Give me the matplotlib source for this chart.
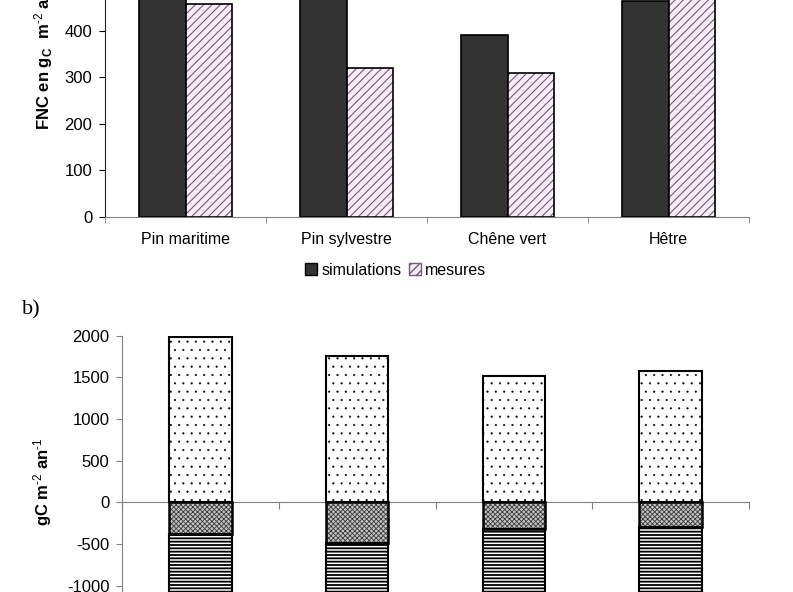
import numpy as np
import matplotlib
matplotlib.use("Agg")
import matplotlib.pyplot as plt
from matplotlib.patches import Patch

plt.rcParams['font.family'] = ['Liberation Sans', 'DejaVu Sans']
plt.rcParams['mathtext.fontset'] = 'custom'
plt.rcParams['mathtext.rm'] = 'Liberation Sans'
plt.rcParams['mathtext.bf'] = 'Liberation Sans:bold'
plt.rcParams['mathtext.default'] = 'bf'
plt.rcParams['axes.unicode_minus'] = False
plt.rcParams['hatch.linewidth'] = 1.0

# panel a) : FNC simulated vs measured
sites = ["Pin maritime", "Pin sylvestre", "Chêne vert", "Hêtre"]
fnc_sim = [560, 540, 391, 463]   # first two cut off in the picture
fnc_mes = [457, 319, 310, 510]   # last one cut off in the picture

# panel b) : stacked fluxes
flux_pos = [1981, 1760, 1516, 1576]
flux_neg1 = [-375, -488, -324, -300]
flux_neg2 = [-900, -850, -800, -850]   # lower ends cut off in the picture

W, H = 793, 592
fig = plt.figure(figsize=(W / 100, H / 100), dpi=100)


def px_axes(left, right, y0_px, top_px):
    # y0_px: pixel row (from top) of axes bottom, top_px: pixel row of axes top
    return [left / W, 1 - y0_px / H, (right - left) / W, (y0_px - top_px) / H]


def hatch_lw(bars, lw):
    for p in bars:
        if hasattr(p, 'set_hatch_linewidth'):
            p.set_hatch_linewidth(lw)


# ---------- panel a ----------
a_ymax = 700
a_scale = 46.5 / 100.0          # px per unit
ax1 = fig.add_axes(px_axes(105, 749, 216.7, 216.7 - a_ymax * a_scale))
x = np.arange(len(sites))
bw = 0.29
ax1.bar(x - bw / 2, fnc_sim, bw, color='#333333', edgecolor='black', linewidth=1.2, zorder=3)
mb = ax1.bar(x + bw / 2, fnc_mes, bw, color='#f8eef8', edgecolor='#7a587a', hatch='////',
             linewidth=0, zorder=3)
hatch_lw(mb, 0.8)
ax1.bar(x + bw / 2, fnc_mes, bw, fill=False, edgecolor='black', linewidth=1.2, zorder=4)
ax1.set_xlim(-0.5, 3.5)
ax1.set_ylim(0, a_ymax)
ax1.set_yticks(np.arange(0, a_ymax + 1, 100))
ax1.set_xticks(x, sites, fontsize=11.5)
ax1.set_xticks(np.arange(-0.5, 4, 1), minor=True)
ax1.tick_params(axis='x', which='major', length=0, pad=11)
ax1.tick_params(axis='x', which='minor', length=4, color='#808080', direction='out')
ax1.tick_params(axis='y', labelsize=12, length=4, pad=5, direction='out')
for s in ['top', 'right']:
    ax1.spines[s].set_visible(False)
ax1.spines['bottom'].set_color('#808080')
ax1.spines['left'].set_color('#222222')
ax1.set_ylabel(r"FNC en g$_{C}$  m$^{\text{-2}}$ an$^{\text{-1}}$", fontsize=12,
               fontweight='bold', labelpad=7)

handles = [Patch(facecolor='#333333', edgecolor='black', label='simulations'),
           Patch(facecolor='#f8eef8', edgecolor='#7a587a', hatch='////', label='mesures')]
fig.legend(handles=handles, loc='center', bbox_to_anchor=(396 / W, 1 - 270 / H),
           ncol=2, frameon=False, fontsize=11.5, handlelength=0.7, handleheight=0.7,
           handletextpad=0.3, columnspacing=0.5)

# ---------- panel b ----------
b_ymin, b_ymax = -1500, 2000
b_scale = 83.3 / 1000.0
ax2 = fig.add_axes(px_axes(122, 749, 502.3 - b_ymin * b_scale, 502.3 - b_ymax * b_scale))
bw2 = 0.40
pb = ax2.bar(x, flux_pos, bw2, color='white', edgecolor='black', hatch='..', linewidth=1.5, zorder=3)
hatch_lw(pb, 0.3)
cb = ax2.bar(x, flux_neg1, bw2, color='#c4c4c4', edgecolor='#3a3a3a', hatch='xxxxxxx',
             linewidth=0, zorder=3)
hatch_lw(cb, 0.6)
ax2.bar(x, flux_neg1, bw2, fill=False, edgecolor='black', linewidth=1.8, zorder=4)
hb = ax2.bar(x, flux_neg2, bw2, bottom=flux_neg1, color='white', edgecolor='black', hatch='-----',
             linewidth=1.5, zorder=3)
hatch_lw(hb, 1.3)
ax2.set_xlim(-0.5, 3.5)
ax2.set_ylim(b_ymin, b_ymax)
ax2.set_yticks(np.arange(-1000, 2001, 500))
ax2.set_xticks(np.arange(-0.5, 4, 1))
ax2.tick_params(axis='x', length=5, color='#808080', direction='out', labelbottom=False)
ax2.tick_params(axis='y', labelsize=12, length=4, pad=5, color='#808080', direction='out')
for s in ['top', 'right']:
    ax2.spines[s].set_visible(False)
ax2.spines['bottom'].set_position(('data', 0))
ax2.spines['bottom'].set_color('#808080')
ax2.spines['left'].set_color('#808080')
ax2.set_ylabel(r"gC m$^{\text{-2}}$ an$^{\text{-1}}$", fontsize=12, fontweight='bold', labelpad=9)

fig.text(22 / W, 1 - 310 / H, "b)", fontsize=16, family=['Liberation Serif', 'DejaVu Serif'],
         va='center', ha='left')

fig.savefig("out.png", dpi=100)
